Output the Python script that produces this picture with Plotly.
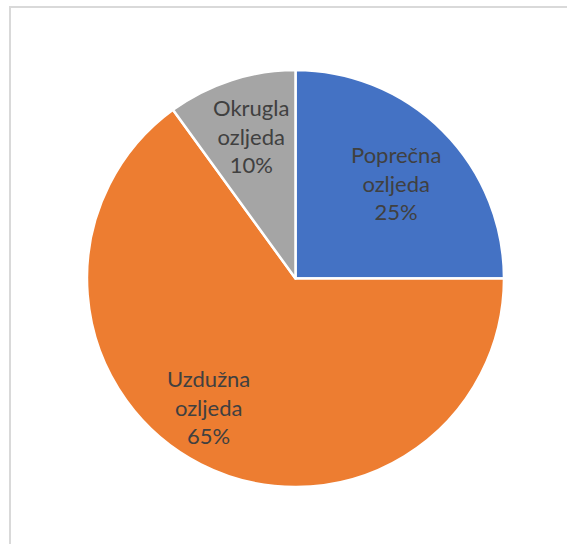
import math
import plotly.graph_objects as go

labels = ["Poprečna ozljeda", "Uzdužna ozljeda", "Okrugla ozljeda"]
label_lines = ["Poprečna<br>ozljeda", "Uzdužna<br>ozljeda", "Okrugla<br>ozljeda"]
values = [25, 65, 10]
colors = ["#4472C4", "#ED7D31", "#A5A5A5"]

W, H = 567, 544
cx, cy, R = 295.5, 278.5, 208.5

# label placement style (fraction of radius, angular nudge in degrees)
label_r = [0.665, 0.745, 0.715]
label_dang = [1.5, 7.0, 0.5]

fig = go.Figure(go.Pie(
    labels=labels,
    values=values,
    sort=False,
    direction="clockwise",
    rotation=0,
    marker=dict(colors=colors, line=dict(color="white", width=2.5)),
    textinfo="none",
    hoverinfo="skip",
    showlegend=False,
    domain=dict(x=[(cx - R) / W, (cx + R) / W],
                y=[(H - cy - R) / H, (H - cy + R) / H]),
))

total = sum(values)
annotations = []
cum = 0
for i, v in enumerate(values):
    mid = (cum + v / 2) / total * 360 + label_dang[i]
    cum += v
    r = label_r[i] * R
    px = cx + r * math.sin(math.radians(mid))
    py = cy - r * math.cos(math.radians(mid))
    pct = round(v / total * 100)
    annotations.append(dict(
        x=px / W, y=1 - py / H, xref="paper", yref="paper",
        text=f"{label_lines[i]}<br>{pct}%",
        showarrow=False, xanchor="center", yanchor="middle",
        align="center",
        font=dict(family="Lato", size=22, color="#404040"),
    ))

fig.update_layout(
    width=W, height=H,
    margin=dict(l=0, r=0, t=0, b=0),
    paper_bgcolor="white",
    annotations=annotations,
    shapes=[
        dict(type="line", xref="paper", yref="paper",
             x0=9 / W, x1=1, y0=1 - 7 / H, y1=1 - 7 / H,
             line=dict(color="#D9D9D9", width=2)),
        dict(type="line", xref="paper", yref="paper",
             x0=10 / W, x1=10 / W, y0=0, y1=1 - 7 / H,
             line=dict(color="#D9D9D9", width=2)),
    ],
)

fig.write_html("out.html",
               config={"displayModeBar": False},
               post_script="document.body.style.margin='0';document.body.style.overflow='hidden';")
